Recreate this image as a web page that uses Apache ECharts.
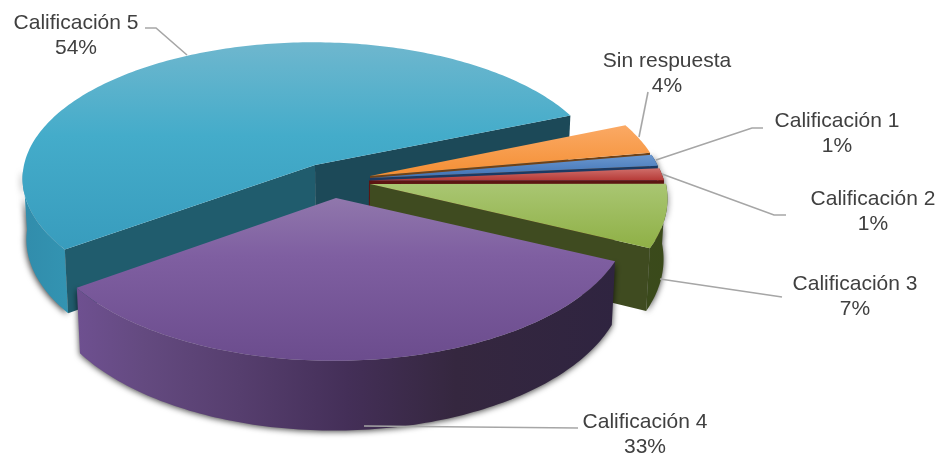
<!DOCTYPE html>
<html><head><meta charset="utf-8">
<style>html,body{margin:0;padding:0;background:#fff}#c{width:948px;height:454px}</style>
<script src="https://cdn.jsdelivr.net/npm/echarts@6/dist/echarts.min.js"></script>
</head><body><div id="c"></div>
<script>
// ---- data (clockwise from the back-right cut of the largest slice)
const categories = ['Sin respuesta','Calificación 1','Calificación 2','Calificación 3','Calificación 4','Calificación 5'];
const percentValues = [3.5, 1.3, 1.4, 7, 33, 53.8];

// ---- layout and style, per slice in the same order
const startDeg = -22.4;
const DEPTH = 60, VANISH_X = 340, SHRINK = 0.012;
const radiiX = [291, 293, 295, 296, 292, 289];
const radiiY = [140, 140, 140, 145, 140, 135];
const persp  = [0.14, 0.14, 0.14, 0.10, 0.14, 0.10];
const arcShiftX = [0, 0, 0, 0, -2, -2];
const apexes = [[370,176],[369.5,178],[369,180.5],[370,184],[336,198],[315,165]];
const drawOrder = [1,2,3,4,5,0];
const topStops = [
  [[0,'#fbaa66'],[1,'#f48f34']],
  [[0,'#6a97cf'],[1,'#3f72b4']],
  [[0,'#d0706c'],[1,'#b53835']],
  [[0,'#a9c672'],[1,'#8fb046']],
  [[0,'#9077ac'],[0.35,'#7f5fa1'],[1,'#6b4c8d']],
  [[0,'#6fb7ce'],[0.45,'#44acca'],[1,'#389cbd']]
];
const topRange = [[124,176],[155,178],[168,181],[184,248],[198,362],[42,250]];
// cut faces: [first edge, second edge], null when it faces away from the viewer
const cutColors = [[null,'#6e4218'],[null,'#1b3a63'],[null,'#5c1512'],[null,'#3f4b20'],[null,null],['#205c6d','#1c4958']];
const wallStops = [
  [[0,'#7a4a1a'],[1,'#7a4a1a']],
  [[0,'#1b3a63'],[1,'#1b3a63']],
  [[0,'#5c1512'],[1,'#5c1512']],
  [[0,'#3b4a1c'],[1,'#3a4a1a']],
  [[0,'#6e5090'],[0.12,'#644a80'],[0.3,'#563e6e'],[0.5,'#442f58'],[0.7,'#35273f'],[1,'#2f2440']],
  [[0,'#318cab'],[1,'#3394b2']]
];
const wallRange = [[600,680],[600,680],[600,680],[640,670],[78,617],[20,70]];
const labelCenters = [[667,73.5],[837,133.5],[873,211.5],[855,296.5],[645,434.5],[76,35.5]];
const leaders = [
  [[648,92],[639,137]],
  [[763,128],[752,128],[656,160]],
  [[786,215],[774,215],[662,174]],
  [[782,297],[660,279]],
  [[578,428],[364,426]],
  [[145,28],[156,28],[187,55]]
];

function project(i, deg) {
  const t = deg * Math.PI / 180, u = Math.cos(t), v = Math.sin(t), w = 1 - persp[i] * v;
  return { x: apexes[i][0] + arcShiftX[i] + radiiX[i] * u / w, y: apexes[i][1] + radiiY[i] * v / w, w: w, v: v };
}
function lower(p) { return [p.x - (p.x - VANISH_X) * SHRINK, p.y + DEPTH / p.w]; }
function grad(x, y, x2, y2, stops) {
  return { type:'linear', global:true, x:x, y:y, x2:x2, y2:y2,
    colorStops: stops.map(s => ({offset:s[0], color:s[1]})) };
}
function range(a, b) { const r = []; const n = Math.max(2, Math.ceil(Math.abs(b - a))); for (let i = 0; i <= n; i++) r.push(a + (b - a) * i / n); return r; }

const cum = [];
percentValues.reduce((acc, v, i) => { cum[i] = acc; return acc + v; }, 0);
const total = percentValues.reduce((a, b) => a + b, 0);

function renderItem(params, api) {
  const i = params.dataIndex, val = api.value(0);
  const a0 = startDeg + cum[i] / total * 360, a1 = a0 + val / total * 360;
  const apex = apexes[i], z = drawOrder[i] * 10;
  const children = [];
  const apexP = { x: apex[0], y: apex[1], w: 1 };
  const cut = (deg, color, zz) => {
    if (!color) return;
    const e = project(i, deg);
    children.push({ type:'polygon', silent:true, z2:zz,
      shape:{ points:[[apex[0],apex[1]],[e.x,e.y],lower(e),lower(apexP)] },
      style:{ fill:color } });
  };
  // outer wall first, so its shadow stays outside the slice
  const wa = Math.max(a0, -10), wb = Math.min(a1, 178);
  if (wb > wa) {
    const pts = range(wa, wb).map(d => project(i, d));
    const poly = pts.map(p => [p.x, p.y]).concat(pts.slice().reverse().map(lower));
    children.push({ type:'polygon', silent:true, z2:z,
      shape:{ points:poly },
      style:{ fill:grad(wallRange[i][0],0,wallRange[i][1],0,wallStops[i]),
        shadowColor:'rgba(0,0,0,0.75)', shadowBlur:6, shadowOffsetX:i===5?-1:0, shadowOffsetY:1 } });
  }
  cut(a0, cutColors[i][0], z + 1);
  cut(a1, cutColors[i][1], z + 2);
  // top face
  const topPts = [[apex[0],apex[1]]].concat(range(a0, a1).map(d => { const p = project(i, d); return [p.x,p.y]; }));
  children.push({ type:'polygon', silent:true, z2:z + 3,
    shape:{ points:topPts },
    style:{ fill:grad(0,topRange[i][0],0,topRange[i][1],topStops[i]) } });
  // leader and label
  children.push({ type:'polyline', silent:true, z2:200,
    shape:{ points:leaders[i] }, style:{ stroke:'#a6a6a6', lineWidth:1.6, fill:null } });
  children.push({ type:'text', silent:true, z2:201,
    style:{ text:categories[i] + '\n' + Math.round(val) + '%', x:labelCenters[i][0], y:labelCenters[i][1],
      align:'center', verticalAlign:'middle', fill:'#404040',
      fontFamily:'"Liberation Sans", Arial, sans-serif', fontSize:21, lineHeight:25 } });
  return { type:'group', children:children };
}

const chart = echarts.init(document.getElementById('c'), null, {renderer:'canvas'});
chart.setOption({
  animation:false,
  backgroundColor:'#ffffff',
  series:[{
    type:'custom', coordinateSystem:'none', renderItem:renderItem, silent:true,
    data: percentValues.map((v, i) => ({ name: categories[i], value: [v] }))
  }]
});
</script></body></html>
